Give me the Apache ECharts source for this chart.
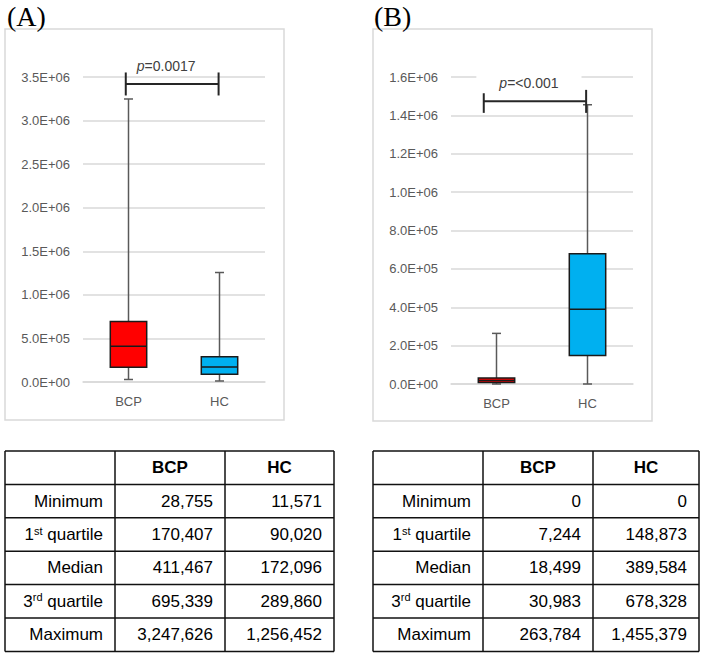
<!DOCTYPE html>
<html>
<head>
<meta charset="utf-8">
<script src="https://cdn.jsdelivr.net/npm/echarts@6/dist/echarts.min.js"></script>
<style>html,body{margin:0;padding:0;background:#fff;}#c{width:707px;height:657px;}</style>
</head>
<body>
<div id="c"></div>
<script>
// ---- data ----
const categories = ['BCP', 'HC'];
const statLabels = ['Minimum', '1st quartile', 'Median', '3rd quartile', 'Maximum'];
// [min, q1, median, q3, max]
const panelA_BCP = [28755, 170407, 411467, 695339, 3247626];
const panelA_HC  = [11571, 90020, 172096, 289860, 1256452];
const panelB_BCP = [0, 7244, 18499, 30983, 263784];
const panelB_HC  = [0, 148873, 389584, 678328, 1455379];
const panelTitles = ['(A)', '(B)'];
const pTexts = ['=0.0017', '=<0.001'];
const bracketValues = [3420000, 1473000];
const bracketSpans = [[-0.03, 0.99], [-0.14, 0.985]];
const yMax = [3500000, 1600000];
const yStep = [500000, 200000];
const boxColors = ['#FF0000', '#00B0F0'];

// ---- layout ----
const grids = [
  {left: 83, top: 77, width: 182, height: 305},
  {left: 451, top: 77, width: 182, height: 307}
];
const frames = [[5, 29, 279, 391], [373, 29, 279, 392]];
const tables = [
  {cols: [5, 115, 225, 334], data: [panelA_BCP, panelA_HC]},
  {cols: [373, 483, 593, 699], data: [panelB_BCP, panelB_HC]}
];
const tableTop = 451, rowH = 33.4;

function sci(v) {
  if (v === 0) return '0.0E+00';
  const e = Math.floor(Math.log10(v) + 1e-9);
  const m = v / Math.pow(10, e);
  return m.toFixed(1) + 'E+' + String(e).padStart(2, '0');
}
const fmt = v => v.toLocaleString('en-US');

function renderBox(params, api) {
  const idx = api.value(0);
  const vals = [1, 2, 3, 4, 5].map(i => api.value(i));
  const band = api.size([1, 0])[0];
  const cx = api.coord([idx, 0])[0];
  const hw = band * 0.2;
  const y = v => api.coord([idx, v])[1];
  const capW = 4.5;
  const wStyle = {stroke: '#595959', lineWidth: 1.5};
  const children = [
    {type: 'line', shape: {x1: cx, y1: y(vals[0]), x2: cx, y2: y(vals[1])}, style: wStyle},
    {type: 'line', shape: {x1: cx, y1: y(vals[3]), x2: cx, y2: y(vals[4])}, style: wStyle},
    {type: 'line', shape: {x1: cx - capW, y1: y(vals[0]), x2: cx + capW, y2: y(vals[0])}, style: wStyle},
    {type: 'line', shape: {x1: cx - capW, y1: y(vals[4]), x2: cx + capW, y2: y(vals[4])}, style: wStyle},
    {type: 'rect', shape: {x: cx - hw, y: y(vals[3]), width: hw * 2, height: y(vals[1]) - y(vals[3])},
      style: {fill: boxColors[params.dataIndex], stroke: '#1a1a1a', lineWidth: 1.5}},
    {type: 'line', shape: {x1: cx - hw, y1: y(vals[2]), x2: cx + hw, y2: y(vals[2])},
      style: {stroke: '#1a1a1a', lineWidth: 1.5}}
  ];
  return {type: 'group', children};
}

function makeBracketRenderer(panel) {
  return function (params, api) {
    const yv = api.value(1);
    const band = api.size([1, 0])[0];
    const c0 = api.coord([0, yv]);
    const x1 = c0[0] + api.value(2) * band;
    const x2 = c0[0] + api.value(3) * band;
    const yy = c0[1];
    const st = {stroke: '#262626', lineWidth: 2};
    const tick = 11.5;
    return {type: 'group', children: [
      {type: 'line', shape: {x1: x1, y1: yy, x2: x2, y2: yy}, style: st},
      {type: 'line', shape: {x1: x1, y1: yy - tick, x2: x1, y2: yy + tick}, style: st},
      {type: 'line', shape: {x1: x2, y1: yy - tick, x2: x2, y2: yy + tick}, style: st},
      {type: 'text', z2: 10, style: {
        x: (x1 + x2) / 2 - 6, y: yy - 18, align: 'center', verticalAlign: 'middle',
        text: '{i|p}{n|' + pTexts[panel] + '}',
        backgroundColor: panel === 1 ? '#fff' : null,
        padding: panel === 1 ? [3, 23] : 0,
        rich: {
          i: {fontFamily: 'Liberation Sans', fontSize: 14, fontStyle: 'italic', fill: '#404040'},
          n: {fontFamily: 'Liberation Sans', fontSize: 14, fill: '#404040'}
        }
      }}
    ]};
  };
}

const graphics = [];
frames.forEach(f => graphics.push({type: 'rect', z: -1, shape: {x: f[0], y: f[1], width: f[2], height: f[3]},
  style: {fill: 'none', stroke: '#d9d9d9', lineWidth: 1.5}}));
panelTitles.forEach((t, i) => graphics.push({type: 'text', style: {
  x: i === 0 ? 7 : 374, y: 16, text: t, verticalAlign: 'middle',
  font: '28px "Liberation Serif"', fill: '#000'}}));

tables.forEach(tb => {
  const c = tb.cols;
  const nRows = statLabels.length + 1;
  const bottom = tableTop + nRows * rowH;
  const lst = {stroke: '#111', lineWidth: 1.5};
  for (let r = 0; r <= nRows; r++) {
    const yy = tableTop + r * rowH;
    graphics.push({type: 'line', shape: {x1: c[0], y1: yy, x2: c[3], y2: yy}, style: lst});
  }
  c.forEach(x => graphics.push({type: 'line', shape: {x1: x, y1: tableTop, x2: x, y2: bottom}, style: lst}));
  categories.forEach((cat, j) => graphics.push({type: 'text', style: {
    x: (c[j + 1] + c[j + 2]) / 2, y: tableTop + rowH / 2, text: cat, align: 'center', verticalAlign: 'middle',
    font: 'bold 17px "Liberation Sans"', fill: '#000'}}));
  statLabels.forEach((lab, r) => {
    const yy = tableTop + (r + 1.5) * rowH;
    let txt;
    const m = lab.match(/^(\d)(st|nd|rd|th)(.*)$/);
    if (m) txt = '{n|' + m[1] + '}{s|' + m[2] + '}{n|' + m[3] + '}';
    else txt = '{n|' + lab + '}';
    graphics.push({type: 'text', style: {
      x: c[1] - 12, y: yy, text: txt, align: 'right', verticalAlign: 'middle',
      rich: {
        n: {fontFamily: 'Liberation Sans', fontSize: 17, lineHeight: 19, fill: '#000'},
        s: {fontFamily: 'Liberation Sans', fontSize: 11, lineHeight: 12, fill: '#000', verticalAlign: 'top'}
      }}});
    tb.data.forEach((arr, j) => graphics.push({type: 'text', style: {
      x: c[j + 2] - 12, y: yy, text: fmt(arr[r]), align: 'right', verticalAlign: 'middle',
      font: '17px "Liberation Sans"', fill: '#000'}}));
  });
});

const axisLabelStyle = {color: '#595959', fontFamily: 'Liberation Sans', fontSize: 13};
const option = {
  animation: false,
  backgroundColor: '#fff',
  grid: grids,
  xAxis: grids.map((g, i) => ({
    type: 'category', gridIndex: i, data: categories,
    axisLine: {show: true, lineStyle: {color: '#d9d9d9', width: 1.5}},
    axisTick: {show: false},
    axisLabel: Object.assign({margin: 13}, axisLabelStyle)
  })),
  yAxis: grids.map((g, i) => ({
    type: 'value', gridIndex: i, min: 0, max: yMax[i], interval: yStep[i],
    axisLine: {show: false}, axisTick: {show: false},
    splitLine: {lineStyle: {color: '#d9d9d9', width: 1.5}},
    axisLabel: Object.assign({margin: 13, formatter: sci}, axisLabelStyle)
  })),
  series: [
    {type: 'custom', xAxisIndex: 0, yAxisIndex: 0, renderItem: renderBox, encode: {x: 0, y: [1, 2, 3, 4, 5]},
      data: [[categories[0]].concat(panelA_BCP), [categories[1]].concat(panelA_HC)]},
    {type: 'custom', xAxisIndex: 1, yAxisIndex: 1, renderItem: renderBox, encode: {x: 0, y: [1, 2, 3, 4, 5]},
      data: [[categories[0]].concat(panelB_BCP), [categories[1]].concat(panelB_HC)]},
    {type: 'custom', xAxisIndex: 0, yAxisIndex: 0, z: 5, clip: false, renderItem: makeBracketRenderer(0), encode: {x: 0, y: 1},
      data: [[categories[0], bracketValues[0], bracketSpans[0][0], bracketSpans[0][1]]]},
    {type: 'custom', xAxisIndex: 1, yAxisIndex: 1, z: 5, clip: false, renderItem: makeBracketRenderer(1), encode: {x: 0, y: 1},
      data: [[categories[0], bracketValues[1], bracketSpans[1][0], bracketSpans[1][1]]]}
  ],
  graphic: graphics
};
const chart = echarts.init(document.getElementById('c'), null, {renderer: 'svg', width: 707, height: 657});
chart.setOption(option);
</script>
</body>
</html>
